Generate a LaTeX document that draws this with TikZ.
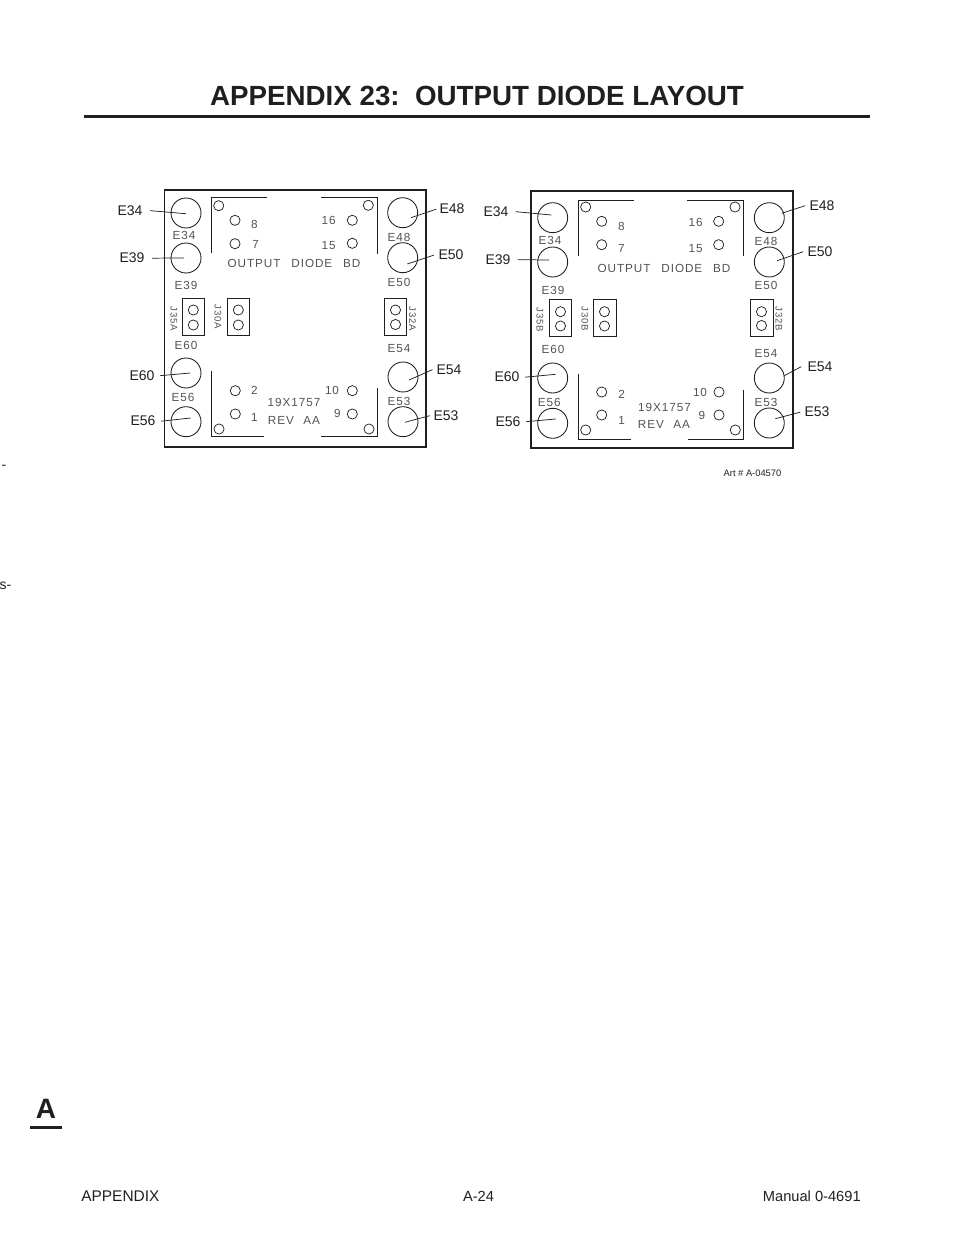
\documentclass[tikz,border=0pt]{standalone}
\usepackage{fontspec}
\setmainfont{Liberation Sans}
\newfontfamily\silkfont[LetterSpace=8]{Liberation Sans}
\definecolor{ink}{gray}{0.12}
\definecolor{silkink}{gray}{0.32}
\tikzset{
  terminal/.style={circle,draw=ink,line width=0.65pt,minimum size=22.5pt,inner sep=0pt,outer sep=0pt},
  hole/.style={circle,draw=ink,line width=0.55pt,minimum size=7.6pt,inner sep=0pt,outer sep=0pt},
  header/.style={draw=ink,line width=0.65pt},
  cornerline/.style={draw=ink,line width=0.75pt},
  leader/.style={draw=ink,line width=0.55pt},
  silktext/.style={text=silkink,font=\silkfont\fontsize{8.8}{10}\selectfont,inner sep=0pt},
  callout/.style={text=ink,font=\fontsize{10.5}{12}\selectfont,inner ysep=0pt,yshift=-0.5pt},
  foot/.style={text=ink,font=\fontsize{11}{13}\selectfont,inner sep=0pt},
  margintext/.style={text=ink,font=\fontsize{10.5}{12}\selectfont,inner sep=0pt,anchor=base east},
}
\newcommand{\mkterm}[3]{\node[terminal] (#1) at (#2,#3) {};}
\newcommand{\mkhole}[3]{\node[hole] (#1) at (#2,#3) {};}
\newcommand{\mksilk}[4]{\node[silktext] (#1) at (#2,#3) {#4};}
\newcommand{\mkrot}[4]{\node[silktext,rotate=-90,font=\silkfont\fontsize{7.2}{8}\selectfont] (#1) at (#2,#3) {#4};}
\newcommand{\mkcall}[8]{%
  \node[callout,inner xsep=#5*0.75pt] (l#1) at (#3,#4) {#2};
  \coordinate (t#1) at (#7,#8);
  \draw[leader] (l#1.#6) -- (t#1);}
\begin{document}
\begin{tikzpicture}[x=0.75pt,y=-0.75pt]
\useasboundingbox (0,0) rectangle (954,1235);

% page furniture
\node[text=ink,font=\bfseries\fontsize{20.8}{25}\selectfont,inner sep=0pt] (title) at (477,96) {APPENDIX 23:\ \ OUTPUT DIODE LAYOUT};
\coordinate (ruleL) at (84,116.5); \coordinate (ruleR) at (870,116.5);
\draw[ink,line width=2.2pt] (ruleL) -- (ruleR);
\node[margintext] (marg1) at (6.5,469.5) {-};
\node[margintext] (marg2) at (11.5,589) {s-};
\node[text=ink,font=\bfseries\fontsize{21}{24}\selectfont,inner sep=0pt] (tab) at (46,1109) {A};
\coordinate (tabL) at (30,1127.5); \coordinate (tabR) at (62,1127.5);
\draw[ink,line width=2.2pt] (tabL) -- (tabR);
\node[foot,anchor=west,font=\fontsize{11.6}{13}\selectfont] (footL) at (81,1196.5) {APPENDIX};
\node[foot] (footC) at (478.5,1196.5) {A-24};
\node[foot,anchor=east] (footR) at (861,1196.5) {Manual 0-4691};
\node[text=ink,font=\fontsize{7}{9}\selectfont,inner sep=0pt] (art) at (752.5,473) {Art \# A-04570};

% ===== left board =====
\draw[ink,line width=1.1pt] (164.3,190) rectangle (426,447);
\draw[cornerline] (211.3,253.3) -- (211.3,197.5) -- (267.3,197.5);
\draw[cornerline] (321,197.5) -- (377.3,197.5) -- (377.3,253.5);
\draw[cornerline] (211.3,370.7) -- (211.3,436.3) -- (264,436.3);
\draw[cornerline] (377.3,388.3) -- (377.3,436.3) -- (321,436.3);
\mkterm{aE34}{186}{213} \mkterm{aE39}{186}{258} \mkterm{aE48}{402.7}{212.7} \mkterm{aE50}{402.7}{257.7}
\mkterm{aE60}{186}{373} \mkterm{aE56}{186}{421.7} \mkterm{aE54}{403}{377} \mkterm{aE53}{403}{421.7}
\mkhole{aTL}{218.7}{205.7} \mkhole{aTR}{368.3}{205.3} \mkhole{aBL}{219}{429} \mkhole{aBR}{369}{429}
\mkhole{aP8}{235}{220.3} \mkhole{aP7}{235}{243.7} \mkhole{aP16}{352.3}{220.3} \mkhole{aP15}{352.3}{243.3}
\mkhole{aP2}{235.3}{390.7} \mkhole{aP1}{235.3}{414} \mkhole{aP10}{352.3}{390.7} \mkhole{aP9}{352.3}{414}
\node[header,minimum width=16.8pt,minimum height=27.7pt,inner sep=0pt] (aJ35) at (193.5,316.8) {};
\node[header,minimum width=16.5pt,minimum height=27.7pt,inner sep=0pt] (aJ30) at (238.3,316.8) {};
\node[header,minimum width=16.8pt,minimum height=27.7pt,inner sep=0pt] (aJ32) at (395.5,316.8) {};
\mkhole{aJ35a}{193.3}{310} \mkhole{aJ35b}{193.3}{325} \mkhole{aJ30a}{238.3}{310} \mkhole{aJ30b}{238.3}{325}
\mkhole{aJ32a}{395.5}{310} \mkhole{aJ32b}{395.5}{324.5}
\mksilk{asE34}{184}{235}{E34} \mksilk{asE39}{186}{285}{E39} \mksilk{asE48}{399}{237}{E48} \mksilk{asE50}{399}{282}{E50}
\mksilk{asE60}{186}{345}{E60} \mksilk{asE56}{183}{397}{E56} \mksilk{asE54}{399}{349}{E54} \mksilk{asE53}{399}{401}{E53}
\mksilk{as8}{254.3}{224}{8} \mksilk{as7}{255.7}{244.7}{7} \mksilk{as16}{328.7}{220}{16} \mksilk{as15}{328.7}{245.3}{15}
\mksilk{as2}{254.3}{390.7}{2} \mksilk{as1}{254.3}{417}{1} \mksilk{as10}{332}{390.7}{10} \mksilk{as9}{337.3}{413}{9}
\mksilk{asOut}{294}{263}{OUTPUT\hspace{5pt} DIODE\hspace{5pt} BD}
\mksilk{asNum}{294}{402}{19X1757}
\mksilk{asRev}{294}{420}{REV\hspace{4pt} AA}
\mkrot{asJ35}{174}{319}{J35A} \mkrot{asJ30}{218}{317}{J30A} \mkrot{asJ32}{412.5}{319}{J32A}
\mkcall{aE34}{E34}{130}{210}{7.5}{east}{186}{213.7}
\mkcall{aE39}{E39}{132}{257.5}{7.5}{east}{184}{258}
\mkcall{aE48}{E48}{452}{208.5}{3}{west}{411}{217.7}
\mkcall{aE50}{E50}{451}{254.5}{4.5}{west}{407.3}{264}
\mkcall{aE60}{E60}{142}{375}{5.5}{east}{190.3}{373}
\mkcall{aE56}{E56}{143}{420.5}{5.5}{east}{190.7}{418}
\mkcall{aE54}{E54}{449}{369}{3.8}{west}{409}{380}
\mkcall{aE53}{E53}{446}{415}{3.5}{west}{405}{422.3}

% ===== right board =====
\draw[ink,line width=1.6pt] (531,190.7) rectangle (792.7,448.3);
\draw[cornerline] (578.3,256) -- (578.3,200.3) -- (634.3,200.3);
\draw[cornerline] (687.3,200.3) -- (743.3,200.3) -- (743.3,256);
\draw[cornerline] (578.3,374) -- (578.3,439) -- (630.7,439);
\draw[cornerline] (743.3,390.3) -- (743.3,439) -- (687.7,439);
\mkterm{bE34}{552.7}{217.7} \mkterm{bE39}{552.7}{262} \mkterm{bE48}{769.3}{217.7} \mkterm{bE50}{769.3}{262}
\mkterm{bE60}{552.7}{378} \mkterm{bE56}{552.7}{423.3} \mkterm{bE54}{769.3}{378} \mkterm{bE53}{769.3}{423}
\mkhole{bTL}{585.7}{207} \mkhole{bTR}{735}{207} \mkhole{bBL}{585.7}{430} \mkhole{bBR}{735.3}{430}
\mkhole{bP8}{601.7}{221.3} \mkhole{bP7}{601.7}{244.7} \mkhole{bP16}{718.7}{221.3} \mkhole{bP15}{718.7}{244.7}
\mkhole{bP2}{601.7}{392} \mkhole{bP1}{601.7}{415} \mkhole{bP10}{719}{392} \mkhole{bP9}{719}{415}
\node[header,minimum width=17pt,minimum height=27.5pt,inner sep=0pt] (bJ35) at (560.4,317.7) {};
\node[header,minimum width=17.2pt,minimum height=27.5pt,inner sep=0pt] (bJ30) at (604.8,317.7) {};
\node[header,minimum width=17pt,minimum height=27.5pt,inner sep=0pt] (bJ32) at (762,317.7) {};
\mkhole{bJ35a}{560.5}{311.7} \mkhole{bJ35b}{560.5}{326} \mkhole{bJ30a}{604.5}{311.7} \mkhole{bJ30b}{604.5}{326}
\mkhole{bJ32a}{761.5}{311.7} \mkhole{bJ32b}{761.5}{325.5}
\mksilk{bsE34}{550}{240}{E34} \mksilk{bsE39}{553}{290}{E39} \mksilk{bsE48}{766}{241}{E48} \mksilk{bsE50}{766}{285.7}{E50}
\mksilk{bsE60}{553}{349.7}{E60} \mksilk{bsE56}{549.3}{402}{E56} \mksilk{bsE54}{766}{353.3}{E54} \mksilk{bsE53}{766}{402}{E53}
\mksilk{bs8}{621.3}{226.3}{8} \mksilk{bs7}{621.3}{248}{7} \mksilk{bs16}{695.7}{222.3}{16} \mksilk{bs15}{695.7}{248.3}{15}
\mksilk{bs2}{621.7}{394.3}{2} \mksilk{bs1}{621.7}{420.7}{1} \mksilk{bs10}{700}{392.7}{10} \mksilk{bs9}{702}{415.7}{9}
\mksilk{bsOut}{664}{268}{OUTPUT\hspace{5pt} DIODE\hspace{5pt} BD}
\mksilk{bsNum}{664.5}{407}{19X1757}
\mksilk{bsRev}{664}{424}{REV\hspace{4pt} AA}
\mkrot{bsJ35}{540}{320}{J35B} \mkrot{bsJ30}{585}{319}{J30B} \mkrot{bsJ32}{779}{319}{J32B}
\mkcall{bE34}{E34}{496}{211}{7}{east}{551.3}{215}
\mkcall{bE39}{E39}{498}{259}{7}{east}{549}{260}
\mkcall{bE48}{E48}{822}{205}{4}{west}{781.7}{213.3}
\mkcall{bE50}{E50}{820}{251}{4}{west}{777}{260.7}
\mkcall{bE60}{E60}{507}{376.5}{5.5}{east}{555.7}{374.3}
\mkcall{bE56}{E56}{508}{421}{5.5}{east}{555.7}{419}
\mkcall{bE54}{E54}{820}{366}{6}{west}{783.7}{376}
\mkcall{bE53}{E53}{817}{411.5}{4}{west}{775.3}{418.7}
\end{tikzpicture}
\end{document}
